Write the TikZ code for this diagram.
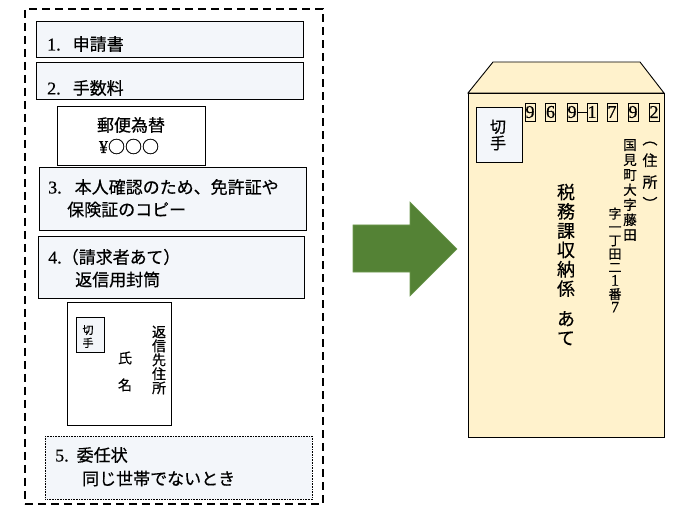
\documentclass[tikz,border=0pt]{standalone}
\usepackage{fontspec}
\setmainfont{Liberation Serif}[FakeBold=0.6]
\newfontfamily\jp{Noto Sans CJK JP}[FakeBold=0.5]
\definecolor{boxfill}{HTML}{F3F6FA}
\definecolor{envfill}{HTML}{FFF2CC}
\definecolor{arrowfill}{HTML}{548235}
\definecolor{arrowline}{HTML}{6E9A50}
\tikzset{
  listbox/.style={draw=black, line width=0.9pt, fill=boxfill, anchor=north west, inner sep=0pt},
  plainbox/.style={draw=black, line width=0.9pt, fill=white, anchor=north west, inner sep=0pt},
  txt/.style={inner sep=0pt, anchor=west, font=\fontsize{18}{20}\selectfont},
  vt/.style={inner sep=0pt, align=center},
  digitbox/.style={draw=black, line width=0.8pt, minimum width=10pt, minimum height=18pt, inner sep=0pt, font=\fontsize{18}{18}\selectfont}
}
\begin{document}
\begin{tikzpicture}[x=1pt,y=-1pt]
\useasboundingbox (0,0) rectangle (674,521);
% outer dashed frame
\node[draw=black, line width=1.8pt, dash pattern=on 8pt off 5pt, minimum width=298pt, minimum height=495pt, anchor=north west, inner sep=0pt] (frame) at (24,8) {};
% box 1
\node[listbox, minimum width=267pt, minimum height=36pt] (b1) at (36,21) {};
\node[txt] (t1) at (47,44) {1.\hspace{12pt}{\jp\fontsize{17}{20}\selectfont 申請書}};
% box 2
\node[listbox, minimum width=267pt, minimum height=37pt] (b2) at (36,62) {};
\node[txt] (t2) at (47,88) {2.\hspace{12pt}{\jp\fontsize{17}{20}\selectfont 手数料}};
% money order
\node[plainbox, minimum width=148pt, minimum height=59pt] (mo) at (57,106) {};
\node[inner sep=0pt, font=\jp\fontsize{17}{20}\selectfont] (mo1) at (131,125) {郵便為替};
\node[inner sep=0pt, font=\fontsize{18}{20}\selectfont] (mo2) at (129,146.5) {¥{\jp\fontsize{17}{20}\selectfont ○○○}};
% box 3
\node[listbox, minimum width=267pt, minimum height=63pt] (b3) at (39,167) {};
\node[txt] (t3a) at (48,187) {3.\hspace{13pt}{\jp\fontsize{17}{20}\selectfont 本人確認のため、免許証や}};
\node[txt, font=\jp\fontsize{17}{20}\selectfont] (t3b) at (67,209.5) {保険証のコピー};
% box 4
\node[listbox, minimum width=266pt, minimum height=62pt] (b4) at (38,236) {};
\node[txt] (t4a) at (48,257) {4.{\jp\fontsize{17}{20}\selectfont （請求者あて）}};
\node[txt, font=\jp\fontsize{17}{20}\selectfont] (t4b) at (75,279.5) {返信用封筒};
% small envelope
\node[plainbox, minimum width=104pt, minimum height=123pt] (senv) at (67,302) {};
\node[listbox, minimum width=28pt, minimum height=35pt] (sstamp) at (76,317) {};
\node[vt, font=\jp\fontsize{11}{13}\selectfont] (sst) at (88,336.5) {切\\手};
\node[vt, font=\jp\fontsize{14}{27}\selectfont] (sname) at (125,371.5) {氏\\名};
\node[vt, font=\jp\fontsize{14}{14}\selectfont] (saddr) at (159,360) {返\\信\\先\\住\\所};
% box 5
\node[listbox, line width=0.6pt, densely dotted, minimum width=267pt, minimum height=63pt] (b5) at (45,436) {};
\node[txt] (t5a) at (55,455) {5.\hspace{8pt}{\jp\fontsize{17}{20}\selectfont 委任状}};
\node[txt, font=\jp\fontsize{17}{20}\selectfont] (t5b) at (82,478.5) {同じ世帯でないとき};
% arrow
\draw[fill=arrowfill, draw=arrowline, line width=0.6pt] (353,225) -- (410,225) -- (410,202) -- (457,249) -- (410,296) -- (410,272) -- (353,272) -- cycle;
% envelope
\draw[fill=envfill, draw=black, line width=0.9pt] (468,93) -- (493,62) -- (640,62) -- (664,93) -- cycle;
\node[draw=black, line width=0.9pt, fill=envfill, minimum width=196pt, minimum height=344pt, anchor=north west, inner sep=0pt] (env) at (468,93) {};
\node[listbox, minimum width=46pt, minimum height=55pt] (stamp) at (476,107) {};
\node[vt, font=\jp\fontsize{16}{16.5}\selectfont] (stt) at (498,135) {切\\手};
% postal code
\node[digitbox] (d1) at (530,112) {9};
\node[digitbox] (d2) at (550.5,112) {6};
\node[digitbox] (d3) at (572,112) {9};
\node[digitbox] (d4) at (592,112) {1};
\node[digitbox] (d5) at (612,112) {7};
\node[digitbox] (d6) at (633,112) {9};
\node[digitbox] (d7) at (654,112) {2};
\draw[line width=0.8pt] (d3.east) -- (d4.west);
% addresses
\node[vt, font=\jp\fontsize{15}{21.7}\selectfont] (paren) at (650,175.5) {︵\\住\\所\\︶};
\node[vt, font=\jp\fontsize{13.5}{15}\selectfont] (addr1) at (630,190) {国\\見\\町\\大\\字\\藤\\田};
\node[vt, font=\jp\fontsize{13}{13.4}\selectfont] (addr2) at (615,260) {字\\一\\丁\\田\\二\\{\rmfamily\fontsize{16}{13.4}\selectfont 1}\\番\\{\rmfamily\fontsize{16}{13.4}\selectfont 7}};
\node[vt, font=\jp\fontsize{18}{19.3}\selectfont] (dest) at (566,264.5) {税\\務\\課\\収\\納\\係\\[10.7pt]あ\\て};
\end{tikzpicture}
\end{document}
